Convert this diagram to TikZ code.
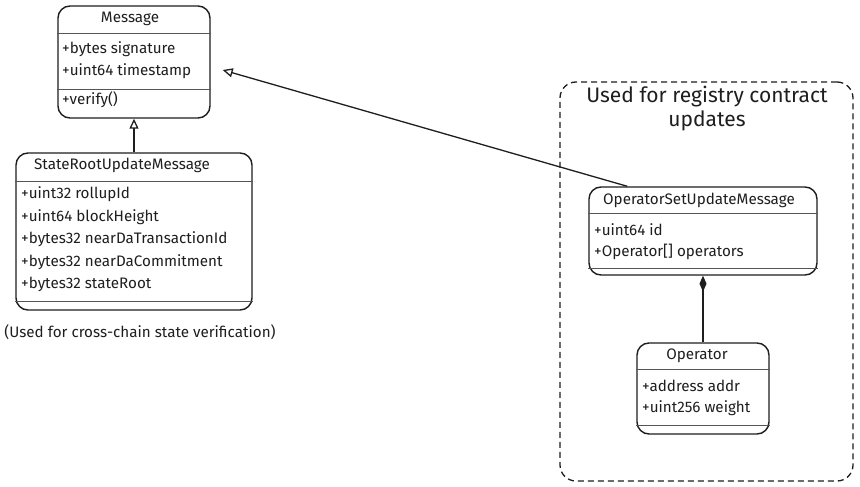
\documentclass[tikz,border=0pt]{standalone}
\usepackage{fontspec}
\setmainfont{Fira Sans}
\usetikzlibrary{arrows.meta,calc}
\definecolor{ink}{HTML}{1E1E1E}
\definecolor{sepgray}{HTML}{555555}
\begin{document}
\begin{tikzpicture}[x=1pt,y=-1pt,
  classbox/.style={draw=ink, line width=1.4pt, rounded corners=12pt, inner sep=0pt},
  grp/.style={draw=ink, line width=1.3pt, rounded corners=16pt, dash pattern=on 6pt off 4pt, inner sep=0pt},
  ttl/.style={font=\fontsize{15.2}{17}\selectfont, text=ink, inner sep=0pt},
  attr/.style={font=\fontsize{15.2}{17}\selectfont, text=ink, inner sep=0pt, anchor=west},
  sepl/.style={draw=sepgray, line width=0.9pt},
  botl/.style={draw=sepgray, line width=1.6pt},
  inh/.style={draw=ink, line width=1.3pt, -{Triangle[open, length=10pt, width=9pt]}},
  comp/.style={draw=ink, line width=1.3pt, {Diamond[length=16pt, width=7pt, fill=ink]}-},
  captxt/.style={font=\fontsize{15.2}{17}\selectfont, text=ink, inner sep=0pt},
  grpttl/.style={font=\fontsize{21}{24}\selectfont, text=ink, inner sep=0pt, align=center}
]
\useasboundingbox (0,0) rectangle (860,487);
\fill[white] (0,0) rectangle (860,487);

% group container
\node[grp, minimum width=293pt, minimum height=399pt] (grp) at (706.5,281.5) {};
\node[grpttl] (grpt) at (707,109) {Used for registry contract\\updates};

% Message
\node[classbox, minimum width=152pt, minimum height=112pt] (msg) at (134,62) {};
\node[ttl] (msgt) at (130,19) {Message};
\draw[sepl] ($(msg.north west)+(0,28)$) -- ($(msg.north east)+(0,28)$);
\node[attr] (msga1) at (62,49) {+bytes signature};
\node[attr] (msga2) at (62,71) {+uint64 timestamp};
\draw[sepl] ($(msg.north west)+(0,84)$) -- ($(msg.north east)+(0,84)$);
\node[attr] (msgm1) at (62,100) {+verify()};

% StateRootUpdateMessage
\node[classbox, minimum width=236pt, minimum height=157pt] (srum) at (134,231.5) {};
\node[ttl] (srumt) at (122,165) {StateRootUpdateMessage};
\draw[sepl] ($(srum.north west)+(0,29)$) -- ($(srum.north east)+(0,29)$);
\node[attr] (sa1) at (21,194) {+uint32 rollupId};
\node[attr] (sa2) at (21,217) {+uint64 blockHeight};
\node[attr] (sa3) at (21,239) {+bytes32 nearDaTransactionId};
\node[attr] (sa4) at (21,262) {+bytes32 nearDaCommitment};
\node[attr] (sa5) at (21,284) {+bytes32 stateRoot};
\draw[botl] ($(srum.north west)+(0,149)$) -- ($(srum.north east)+(0,149)$);
\node[captxt] (srumcap) at (140,332) {(Used for cross-chain state verification)};

% OperatorSetUpdateMessage
\node[classbox, minimum width=228pt, minimum height=88pt] (osum) at (703,231) {};
\node[ttl] (osumt) at (699,200) {OperatorSetUpdateMessage};
\draw[sepl] ($(osum.north west)+(0,27)$) -- ($(osum.north east)+(0,27)$);
\node[attr] (oa1) at (594,230) {+uint64 id};
\node[attr] (oa2) at (594,252) {+Operator[] operators};
\draw[botl] ($(osum.north west)+(0,82)$) -- ($(osum.north east)+(0,82)$);

% Operator
\node[classbox, minimum width=132pt, minimum height=91pt] (op) at (703,388.5) {};
\node[ttl] (opt) at (697,356) {Operator};
\draw[sepl] ($(op.north west)+(0,27)$) -- ($(op.north east)+(0,27)$);
\node[attr] (opa1) at (642,386) {+address addr};
\node[attr] (opa2) at (642,408) {+uint256 weight};
\draw[botl] ($(op.north west)+(0,83)$) -- ($(op.north east)+(0,83)$);

% connectors
\draw[inh] (srum.north) -- (msg.south);
\coordinate (inhtail) at ($(osum.north west)+(39,0)$);
\coordinate (inhtip) at ($(msg.east)+(12,8)$);
\draw[inh] (inhtail) -- (inhtip);
\draw[comp] (osum.south) -- (op.north);
\end{tikzpicture}
\end{document}
